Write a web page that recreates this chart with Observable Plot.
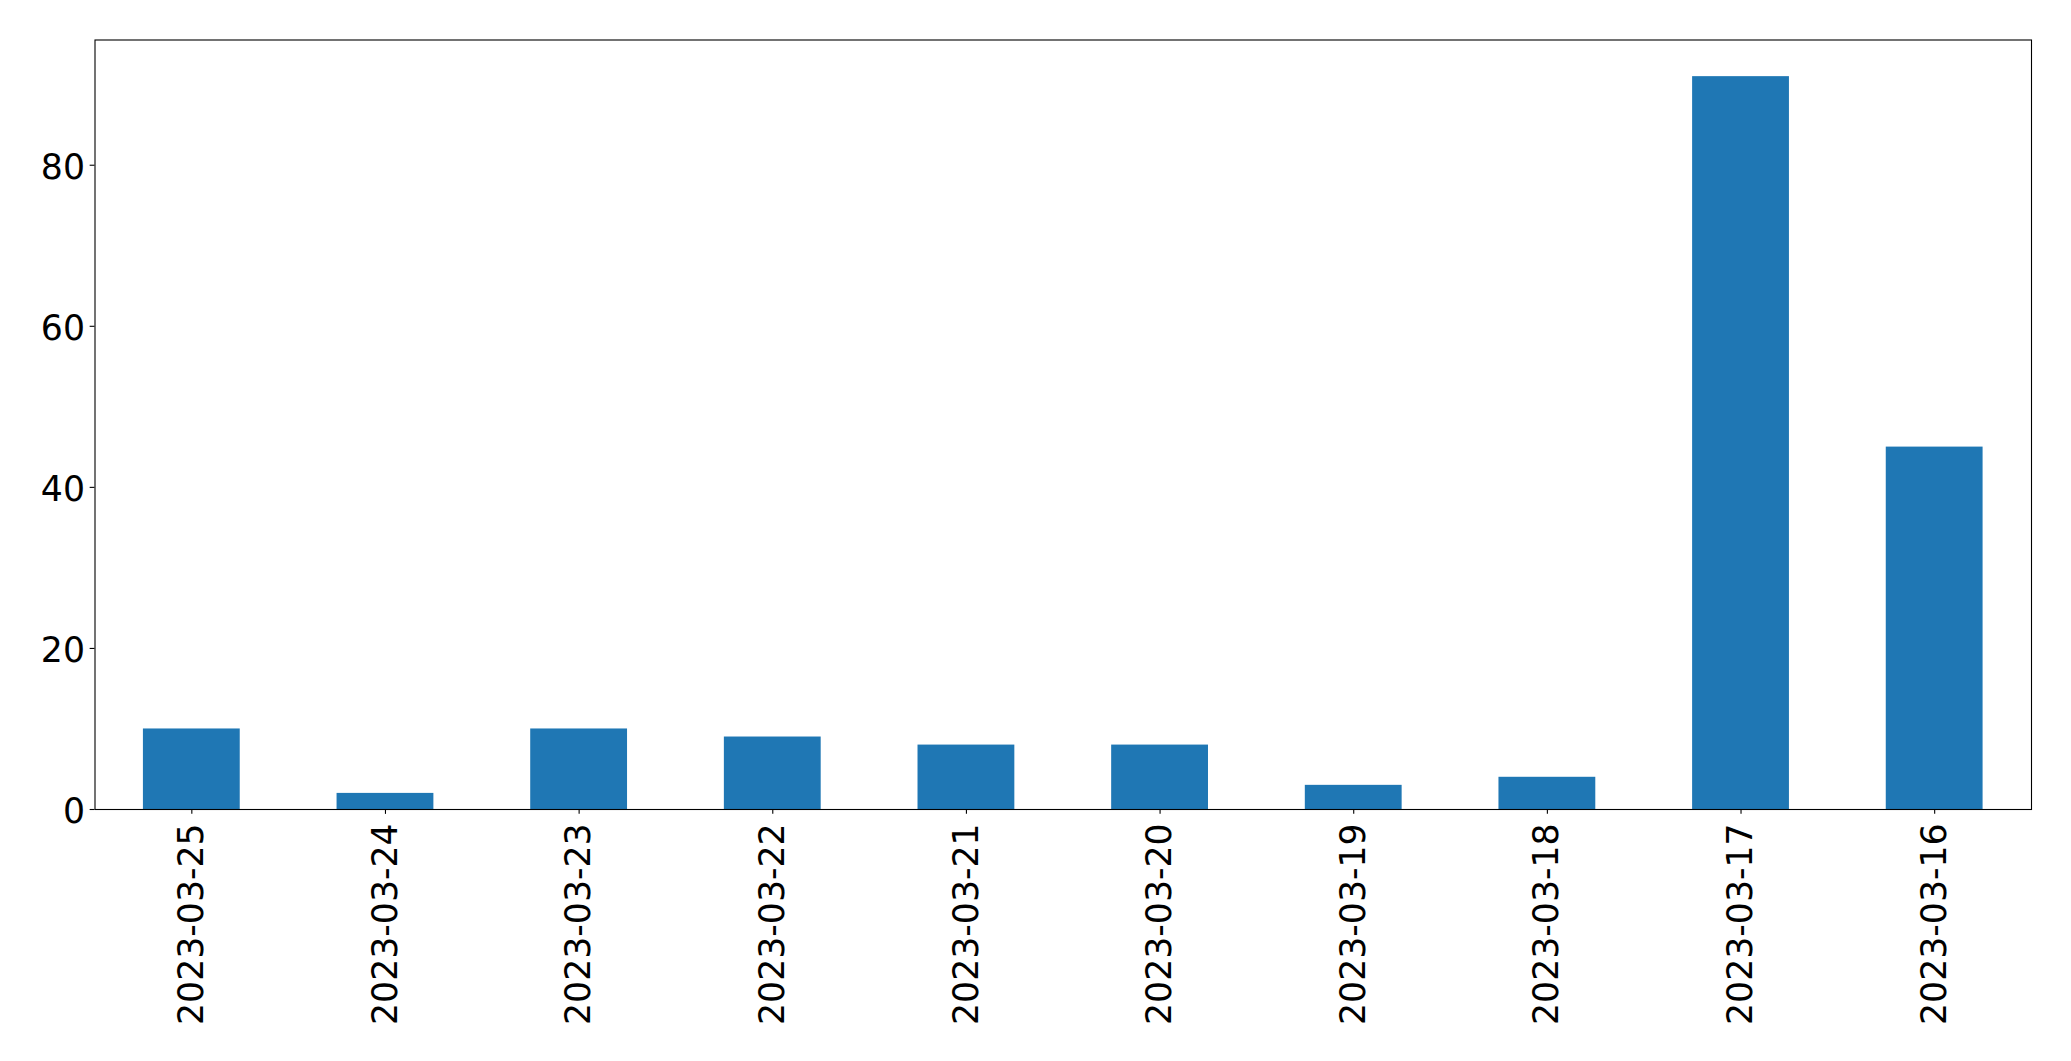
<!DOCTYPE html>
<html><head><meta charset="utf-8">
<script src="https://cdn.jsdelivr.net/npm/d3@7"></script>
<script src="https://cdn.jsdelivr.net/npm/@observablehq/plot@0.6"></script>
<style>body{margin:0;background:#fff;overflow:hidden}</style>
</head><body><div id="chart"></div>
<script>
const dates = ["2023-03-25","2023-03-24","2023-03-23","2023-03-22","2023-03-21","2023-03-20","2023-03-19","2023-03-18","2023-03-17","2023-03-16"];
const counts = [10, 2, 10, 9, 8, 8, 3, 4, 91, 45];
const yTicks = [0, 20, 40, 60, 80];

const data = dates.map((d, i) => ({date: d, count: counts[i]}));

const chart = Plot.plot({
  width: 2071,
  height: 1061,
  marginLeft: 94.5,
  marginRight: 40,
  marginTop: 39.5,
  marginBottom: 252,
  style: {fontFamily: "DejaVu Sans", fontSize: "34.7px", color: "black", background: "white"},
  x: {type: "band", domain: dates, paddingInner: 0.5, paddingOuter: 0.25, round: false},
  y: {domain: [0, 95.55]},
  marks: [
    Plot.barY(data, {x: "date", y: "count", fill: "#1f77b4"}),
    Plot.frame({stroke: "black", strokeWidth: 1.1}),
    Plot.axisY({ticks: yTicks, tickSize: 4.86, tickFormat: () => "", label: null, strokeWidth: 1.1}),
    Plot.axisY({ticks: yTicks, tickSize: 0, tickPadding: 10, label: null, dy: 2.5}),
    Plot.axisX({tickRotate: -90, tickSize: 4.86, tickPadding: 9, label: null, strokeWidth: 1.1})
  ]
});
document.getElementById("chart").appendChild(chart);
</script>
</body></html>
